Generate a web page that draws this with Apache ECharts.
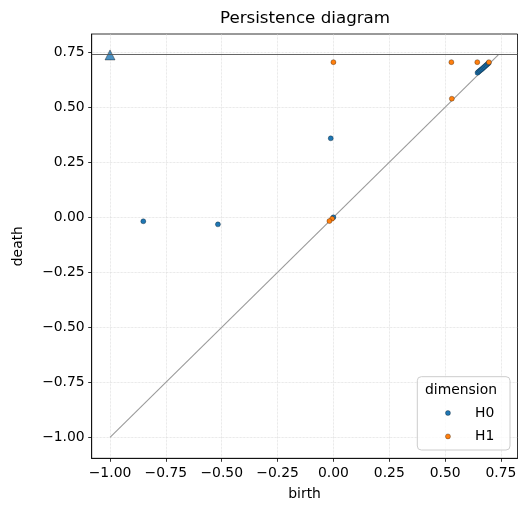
<!DOCTYPE html>
<html>
<head>
<meta charset="utf-8">
<script src="https://cdn.jsdelivr.net/npm/echarts@6/dist/echarts.min.js"></script>
<style>
  html, body { margin: 0; padding: 0; background: #fff; }
  #chart { width: 529px; height: 516px; }
</style>
</head>
<body>
<div id="chart"></div>
<script>
// finite points, dimension 0
var h0Birth = [-0.851, -0.517, -0.012, 0.0, 0.645, 0.650, 0.655, 0.660, 0.665, 0.670, 0.675, 0.680, 0.685, 0.690, 0.695];
var h0Death = [-0.018, -0.032, 0.359, 0.0, 0.657, 0.662, 0.666, 0.670, 0.674, 0.679, 0.683, 0.688, 0.692, 0.697, 0.701];
// finite points, dimension 1
var h1Birth = [0.0, 0.528, 0.644, 0.696, 0.530, -0.006, -0.018];
var h1Death = [0.705, 0.705, 0.705, 0.705, 0.539, -0.006, -0.017];
// points with infinite death, drawn on the "inf" line
var infBirth = [-1.0];
var infDeath = 0.738;
var diagMin = -1.0;
var tickValues = [-1.0, -0.75, -0.5, -0.25, 0.0, 0.25, 0.5, 0.75];
var dims = ['H0', 'H1'];

function pairs(xs, ys) {
    var out = [];
    for (var i = 0; i < xs.length; i++) {
        out.push([xs[i], ys[i]]);
    }
    return out;
}
function fmt(v) {
    return (v < 0 ? '\u2212' : '') + Math.abs(v).toFixed(2);
}

var font = 'DejaVu Sans';
var axisCommon = {
    type: 'value',
    nameLocation: 'middle',
    nameTextStyle: { fontFamily: font, fontSize: 13.9, color: '#000' },
    axisLine: { show: true, onZero: false, lineStyle: { color: '#000', width: 0.8 } },
    axisTick: { show: true, length: 3.5, lineStyle: { color: '#000', width: 0.8 }, customValues: tickValues },
    axisLabel: { fontFamily: font, fontSize: 13.9, color: '#000', customValues: tickValues, formatter: fmt },
    splitLine: { show: true, lineStyle: { color: '#d6d6d6', width: 0.7, type: 'dotted' } }
};
var edge = 'rgba(0,0,0,0.6)';

var myChart = echarts.init(document.getElementById('chart'));
var option = {
    animation: false,
    title: {
        text: 'Persistence diagram',
        left: 305,
        textAlign: 'center',
        top: 10,
        padding: 0,
        textStyle: { fontFamily: font, fontSize: 16.7, fontWeight: 'normal', color: '#000' }
    },
    grid: {
        left: 91.7, right: 11.5, top: 34, bottom: 57.7,
        show: true, borderColor: '#000', borderWidth: 0.8
    },
    xAxis: Object.assign({}, axisCommon, {
        min: -1.082, max: 0.824,
        name: 'birth', nameGap: 29,
        axisLabel: Object.assign({}, axisCommon.axisLabel, { margin: 8 })
    }),
    yAxis: Object.assign({}, axisCommon, {
        min: -1.095, max: 0.833,
        name: 'death', nameGap: 66,
        axisLabel: Object.assign({}, axisCommon.axisLabel, { margin: 7 })
    }),
    legend: {
        data: [{ name: dims[0], icon: 'circle' }, { name: dims[1], icon: 'circle' }],
        orient: 'vertical',
        left: 445.2,
        top: 406,
        padding: 0,
        itemWidth: 5,
        itemHeight: 5,
        itemGap: 9.4,
        z: 11,
        itemStyle: { borderColor: edge, borderWidth: 0.5 },
        textStyle: { fontFamily: font, fontSize: 13.9, color: '#000', padding: [0, 0, 0, 19.5] }
    },
    graphic: [{
        type: 'rect',
        z: 10,
        shape: { x: 417.3, y: 376.7, width: 92.7, height: 73.3, r: 4 },
        style: { fill: 'rgba(255,255,255,0.8)', stroke: '#cccccc', lineWidth: 1 }
    }, {
        type: 'text',
        z: 12,
        left: 425,
        top: 383,
        style: { text: 'dimension', font: '13.9px "DejaVu Sans"', fill: '#000' }
    }],
    series: [
        {
            name: 'diagonal',
            type: 'line',
            data: [[diagMin, diagMin], [infDeath, infDeath]],
            showSymbol: false,
            silent: true,
            z: 1,
            lineStyle: { color: '#9a9a9a', width: 1.1 }
        },
        {
            name: 'H0 inf',
            type: 'scatter',
            symbol: 'triangle',
            symbolSize: 10,
            data: infBirth.map(function (b) { return [b, infDeath]; }),
            z: 4,
            itemStyle: { color: '#1f77b4', borderColor: edge, borderWidth: 0.8 },
            markLine: {
                silent: true,
                symbol: 'none',
                label: { show: false },
                lineStyle: { color: '#555', width: 0.9, type: 'solid' },
                data: [{ yAxis: infDeath }]
            }
        },
        {
            name: dims[0],
            type: 'scatter',
            symbolSize: 5,
            data: pairs(h0Birth, h0Death),
            z: 3,
            itemStyle: { color: '#1f77b4', borderColor: edge, borderWidth: 0.5, opacity: 1 }
        },
        {
            name: dims[1],
            type: 'scatter',
            symbolSize: 5,
            data: pairs(h1Birth, h1Death),
            z: 3,
            itemStyle: { color: '#ff7f0e', borderColor: edge, borderWidth: 0.5, opacity: 1 }
        }
    ]
};
myChart.setOption(option);
</script>
</body>
</html>
